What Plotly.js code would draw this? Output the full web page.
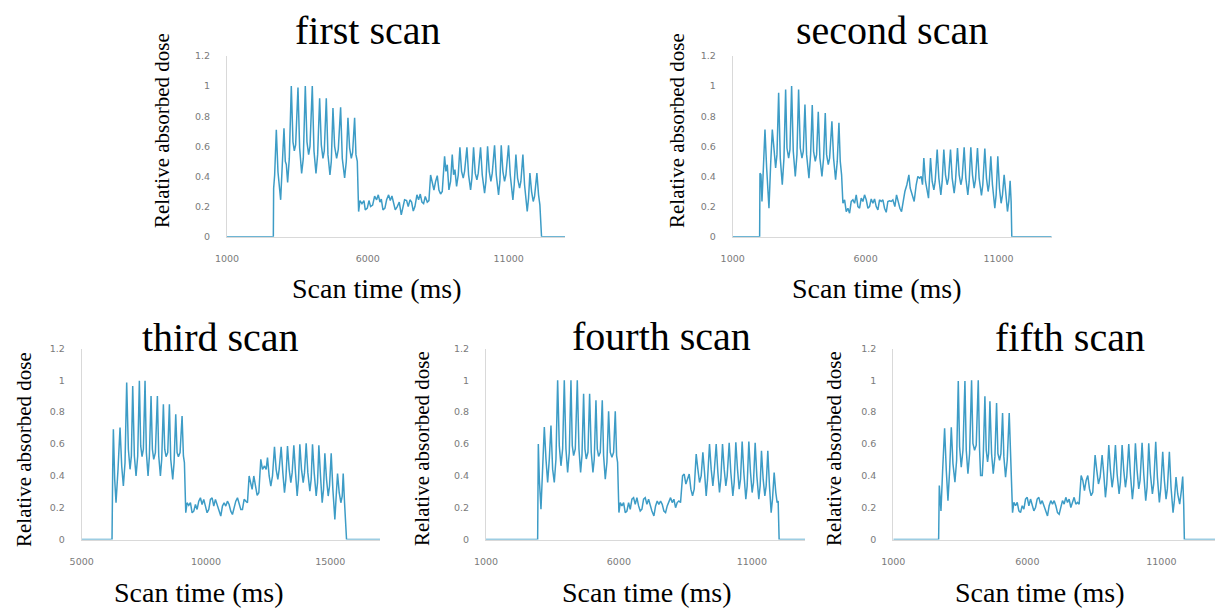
<!DOCTYPE html>
<html>
<head>
<meta charset="utf-8">
<script src="https://cdn.plot.ly/plotly-3.0.1.min.js"></script>
<style>html,body{margin:0;padding:0;background:#fff;}#chart{width:1219px;height:610px;}</style>
</head>
<body>
<div id="chart"></div>
<script>
// ---------------- DATA ----------------
const panelTitles = ["first scan", "second scan", "third scan", "fourth scan", "fifth scan"];
const xAxisTitle = "Scan time (ms)";
const yAxisTitle = "Relative absorbed dose";
const xRanges = [[1000, 13000], [1000, 13000], [5000, 17000], [1000, 13000], [1000, 13000]];
const xTickStarts = [1000, 1000, 5000, 1000, 1000];
const xTickStep = 5000;
const yRange = [0, 1.2];
const yTickStep = 0.2;

const p1Time = [1000, 2645, 2656, 2692, 2751, 2810, 2905, 2964, 3023, 3070, 3106, 3153, 3212, 3283, 3342, 3390, 3437, 3520, 3579, 3650, 3709, 3780, 3839, 3898, 3946, 4028, 4088, 4159, 4218, 4289, 4348, 4407, 4454, 4525, 4584, 4655, 4703, 4762, 4821, 4892, 4951, 5034, 5093, 5176, 5235, 5294, 5353, 5413, 5460, 5531, 5578, 5626, 5673,
  5720, 5791, 5862, 5909, 5981, 6040, 6099, 6170, 6241, 6312, 6371, 6430, 6478, 6537, 6607, 6667, 6738, 6797, 6856, 6915, 6974, 7045, 7116, 7187, 7246, 7305, 7376, 7435, 7495, 7554, 7613, 7672, 7743, 7802, 7862, 7921, 7980, 8039, 8110, 8169,
  8228, 8287, 8347, 8406, 8465, 8524, 8583, 8642,
  8725, 8772, 8820, 8879, 8938, 8997, 9044, 9092, 9151, 9210, 9269, 9328, 9387, 9435, 9518, 9577, 9648, 9695, 9754, 9813, 9872, 9920, 10002, 10062, 10145, 10192, 10251, 10310, 10369, 10417, 10499, 10559, 10641, 10689, 10736, 10795, 10854, 10902, 10996, 11056, 11150, 11197, 11257, 11316, 11387, 11434, 11505, 11564, 11659, 11706, 11754, 11813, 11872, 11919, 12002, 12061, 12108, 12167, 13000];
const p1Dose = [0, 0, 0.32, 0.41, 0.71, 0.43, 0.245, 0.46, 0.72, 0.50, 0.48, 0.36, 0.52, 1.0, 0.63, 0.57, 0.61, 0.99, 0.59, 0.42, 0.52, 1.0, 0.63, 0.545, 0.60, 1.0, 0.57, 0.42, 0.545, 0.92, 0.61, 0.52, 0.57, 0.92, 0.545, 0.41, 0.50, 0.855, 0.60, 0.52, 0.58, 0.86, 0.52, 0.39, 0.50, 0.79, 0.59, 0.52, 0.56, 0.79, 0.545, 0.50, 0.167,
  0.24, 0.22, 0.24, 0.178, 0.19, 0.24, 0.20, 0.21, 0.27, 0.245, 0.278, 0.23, 0.25, 0.178, 0.19, 0.245, 0.278, 0.24, 0.27, 0.23, 0.178, 0.20, 0.23, 0.145, 0.19, 0.245, 0.24, 0.20, 0.245, 0.23, 0.17, 0.20, 0.278, 0.245, 0.283, 0.23, 0.22, 0.267, 0.23, 0.24,
  0.41, 0.367, 0.31, 0.367, 0.405, 0.31, 0.283, 0.30,
  0.534, 0.434, 0.478, 0.311, 0.367, 0.545, 0.411, 0.445, 0.334, 0.411, 0.594, 0.434, 0.389, 0.434, 0.594, 0.411, 0.311, 0.389, 0.594, 0.422, 0.378, 0.422, 0.594, 0.411, 0.289, 0.367, 0.6, 0.434, 0.367, 0.422, 0.607, 0.411, 0.278, 0.367, 0.607, 0.434, 0.367, 0.411, 0.607, 0.411, 0.245, 0.345, 0.545, 0.389, 0.323, 0.367, 0.545, 0.345, 0.167, 0.256, 0.422, 0.3, 0.234, 0.267, 0.422, 0.278, 0.211, 0, 0];

const p2Time = [1000, 2013, 2026, 2064, 2101, 2151, 2214, 2277, 2364, 2427, 2490, 2540, 2615, 2665, 2728, 2790, 2865, 2928, 2991, 3041, 3104, 3154, 3216, 3279, 3354, 3417, 3479, 3542, 3605, 3655, 3718, 3780, 3868, 3930, 3993, 4043, 4106, 4156, 4219, 4281, 4357, 4419, 4482, 4532, 4595, 4645, 4732, 4795, 4870, 4933, 4996, 5046, 5096, 5146,
  5209, 5271, 5334, 5397, 5459, 5522, 5585, 5647, 5710, 5772, 5835, 5898, 5960, 6023, 6086, 6148, 6211, 6274, 6336, 6399, 6462, 6524, 6587, 6650, 6712, 6775, 6837, 6900, 6963, 7025, 7100, 7163, 7226, 7289, 7351, 7414,
  7477, 7552, 7627, 7677, 7752, 7827, 7903, 7965, 8028, 8090, 8140, 8190, 8253, 8316, 8366, 8441, 8504, 8567, 8617, 8692, 8755, 8830, 8880, 8942, 9005, 9068, 9118, 9193, 9256, 9331, 9381, 9456, 9519, 9582, 9632, 9707, 9770, 9845, 9895, 9957, 10020, 10083, 10133, 10208, 10270, 10358, 10408, 10484, 10546, 10609, 10647, 10709, 10772, 10860, 10910, 10972, 11035, 11098, 11148, 11211, 11273, 11336, 11386, 11436, 11474, 11499, 13000];
const p2Dose = [0, 0, 0.422, 0.411, 0.234, 0.434, 0.711, 0.456, 0.189, 0.478, 0.711, 0.611, 0.456, 0.545, 0.956, 0.52, 0.345, 0.52, 0.978, 0.589, 0.522, 0.578, 1.0, 0.567, 0.4, 0.545, 0.978, 0.589, 0.522, 0.567, 0.878, 0.545, 0.389, 0.545, 0.874, 0.567, 0.5, 0.545, 0.829, 0.522, 0.4, 0.522, 0.822, 0.545, 0.478, 0.522, 0.767, 0.522, 0.378, 0.5, 0.756, 0.5, 0.411, 0.222,
  0.245, 0.167, 0.189, 0.156, 0.234, 0.245, 0.222, 0.278, 0.2, 0.189, 0.256, 0.234, 0.278, 0.245, 0.189, 0.2, 0.251, 0.222, 0.251, 0.2, 0.178, 0.245, 0.234, 0.245, 0.189, 0.162, 0.234, 0.238, 0.234, 0.245, 0.2, 0.278, 0.234, 0.189, 0.167, 0.245,
  0.3, 0.345, 0.411, 0.323, 0.278, 0.234, 0.345, 0.4, 0.389, 0.4, 0.345, 0.522, 0.367, 0.311, 0.256, 0.522, 0.367, 0.311, 0.367, 0.578, 0.389, 0.278, 0.367, 0.578, 0.411, 0.345, 0.389, 0.578, 0.389, 0.289, 0.367, 0.589, 0.411, 0.345, 0.389, 0.594, 0.389, 0.278, 0.367, 0.594, 0.411, 0.323, 0.378, 0.589, 0.389, 0.274, 0.345, 0.585, 0.389, 0.3, 0.345, 0.534, 0.345, 0.189, 0.278, 0.534, 0.323, 0.222, 0.278, 0.411, 0.256, 0.167, 0.234, 0.371, 0.234, 0, 0];

const p3Time = [5000, 6220, 6247, 6274, 6327, 6381, 6461, 6542, 6609, 6676, 6743, 6810, 6877, 6945, 6998, 7052, 7119, 7186, 7253, 7320, 7374, 7428, 7481, 7548, 7602, 7669, 7723, 7790, 7844, 7897, 7964, 8045, 8099, 8166, 8219, 8286, 8340, 8394, 8461, 8528, 8582, 8662, 8716, 8783, 8837, 8890, 8957, 9038, 9092, 9132, 9186,
  9239, 9306, 9374, 9441, 9508, 9575, 9642, 9709, 9776, 9843, 9910, 9977, 10044, 10112, 10179, 10246, 10313, 10380, 10447, 10514, 10595, 10662, 10729, 10796, 10863, 10930, 10997, 11064, 11132, 11199, 11266, 11333, 11400, 11467, 11534, 11601, 11668,
  11735, 11802, 11856, 11923, 11977, 12058, 12125, 12205, 12272, 12353, 12420, 12474, 12541, 12608, 12675, 12755, 12822, 12890, 12943, 13024, 13091, 13158, 13212, 13279, 13346, 13413, 13467, 13534, 13601, 13668, 13722, 13775, 13842, 13910, 13963, 14030, 14097, 14178, 14231, 14285, 14352, 14433, 14487, 14540, 14607, 14674, 14728, 14782, 14849, 14916, 14970, 15037, 15104, 15184, 15238, 15292, 15359, 15426, 15480, 15520, 15574, 15654, 17000];
const p3Dose = [0, 0, 0.441, 0.692, 0.378, 0.231, 0.441, 0.703, 0.462, 0.336, 0.483, 0.986, 0.567, 0.441, 0.525, 0.965, 0.525, 0.399, 0.525, 0.997, 0.588, 0.52, 0.567, 0.997, 0.546, 0.399, 0.525, 0.902, 0.567, 0.504, 0.546, 0.902, 0.525, 0.399, 0.504, 0.85, 0.567, 0.52, 0.546, 0.85, 0.504, 0.378, 0.483, 0.787, 0.546, 0.52, 0.546, 0.776, 0.525, 0.483, 0.168,
  0.231, 0.214, 0.231, 0.168, 0.178, 0.22, 0.189, 0.241, 0.262, 0.22, 0.252, 0.21, 0.168, 0.189, 0.252, 0.262, 0.21, 0.252, 0.22, 0.189, 0.147, 0.21, 0.231, 0.21, 0.241, 0.22, 0.178, 0.157, 0.21, 0.241, 0.262, 0.231, 0.189, 0.189, 0.252, 0.241, 0.231,
  0.399, 0.357, 0.315, 0.399, 0.336, 0.277, 0.294, 0.504, 0.441, 0.462, 0.441, 0.514, 0.399, 0.336, 0.399, 0.583, 0.441, 0.378, 0.441, 0.583, 0.42, 0.294, 0.378, 0.587, 0.441, 0.357, 0.42, 0.592, 0.42, 0.273, 0.378, 0.598, 0.441, 0.357, 0.42, 0.604, 0.42, 0.304, 0.378, 0.598, 0.42, 0.273, 0.357, 0.592, 0.399, 0.231, 0.315, 0.541, 0.378, 0.273, 0.336, 0.541, 0.315, 0.126, 0.273, 0.415, 0.294, 0.231, 0.273, 0.415, 0.231, 0, 0];

const p4Time = [1000, 2943, 2968, 3006, 3068, 3131, 3194, 3256, 3319, 3382, 3444, 3507, 3569, 3632, 3695, 3757, 3820, 3883, 3945, 4008, 4071, 4133, 4196, 4246, 4296, 4359, 4434, 4497, 4559, 4610, 4672, 4722, 4772, 4835, 4898, 4960, 5023, 5073, 5136, 5186, 5236, 5299, 5374, 5424, 5487, 5549, 5612, 5675, 5737, 5800, 5863, 5913, 5950, 6000,
  6050, 6113, 6176, 6238, 6301, 6364, 6426, 6489, 6552, 6614, 6677, 6740, 6802, 6865, 6928, 6990, 7053, 7116, 7178, 7241, 7316, 7379, 7441, 7504, 7567, 7629, 7692, 7755, 7817, 7880, 7943, 8005, 8068, 8131, 8193, 8256, 8318,
  8394, 8456, 8519, 8582, 8644, 8707, 8770, 8832, 8907, 8970, 9033, 9095, 9158, 9221, 9283, 9334, 9408, 9471, 9534, 9584, 9659, 9722, 9784, 9834, 9897, 9960, 10022, 10073, 10148, 10210, 10286, 10336, 10398, 10461, 10524, 10574, 10636, 10699, 10774, 10824, 10887, 10950, 11012, 11062, 11125, 11188, 11263, 11313, 11363, 11426, 11489, 11539, 11601, 11664, 11727, 11777, 11840, 11902, 11952, 11990, 12027, 13000];
const p4Dose = [0, 0, 0.6, 0.379, 0.19, 0.442, 0.706, 0.506, 0.358, 0.506, 0.716, 0.442, 0.358, 0.506, 1.0, 0.59, 0.463, 0.569, 1.0, 0.569, 0.421, 0.548, 1.0, 0.59, 0.527, 0.569, 1.0, 0.569, 0.421, 0.527, 0.916, 0.569, 0.506, 0.548, 0.916, 0.548, 0.421, 0.506, 0.874, 0.569, 0.522, 0.548, 0.874, 0.527, 0.379, 0.485, 0.805, 0.548, 0.516, 0.548, 0.805, 0.527, 0.485, 0.169,
  0.232, 0.211, 0.232, 0.169, 0.179, 0.232, 0.19, 0.253, 0.263, 0.221, 0.263, 0.211, 0.179, 0.19, 0.253, 0.263, 0.221, 0.253, 0.211, 0.179, 0.148, 0.211, 0.242, 0.221, 0.242, 0.221, 0.179, 0.169, 0.211, 0.242, 0.263, 0.232, 0.253, 0.2, 0.232, 0.242, 0.232,
  0.4, 0.411, 0.348, 0.379, 0.411, 0.316, 0.274, 0.316, 0.537, 0.442, 0.358, 0.4, 0.548, 0.421, 0.274, 0.379, 0.6, 0.442, 0.337, 0.421, 0.6, 0.421, 0.295, 0.379, 0.6, 0.442, 0.337, 0.4, 0.607, 0.421, 0.274, 0.358, 0.611, 0.442, 0.316, 0.379, 0.615, 0.421, 0.253, 0.337, 0.615, 0.421, 0.295, 0.358, 0.607, 0.4, 0.253, 0.337, 0.558, 0.379, 0.274, 0.337, 0.558, 0.337, 0.169, 0.253, 0.421, 0.295, 0.232, 0.242, 0, 0];

const p5Time = [1000, 2691, 2716, 2741, 2778, 2840, 2914, 2977, 3039, 3101, 3163, 3225, 3299, 3362, 3424, 3473, 3535, 3598, 3672, 3722, 3784, 3846, 3920, 3970, 4032, 4094, 4169, 4219, 4256, 4318, 4355, 4417, 4467, 4517, 4554, 4604, 4666, 4728, 4790, 4852, 4902, 4964, 5014, 5076, 5125, 5187, 5250, 5324, 5361, 5398, 5448,
  5498, 5560, 5622, 5684, 5746, 5808, 5870, 5933, 5995, 6057, 6119, 6181, 6243, 6305, 6367, 6429, 6491, 6554, 6616, 6678, 6752, 6814, 6876, 6939, 7001, 7063, 7125, 7187, 7249, 7311, 7373, 7435, 7497, 7559, 7622, 7684, 7746, 7808, 7870, 7932,
  8007, 8069, 8131, 8193, 8255, 8317, 8379, 8441, 8528, 8590, 8653, 8715, 8789, 8851, 8913, 8963, 9038, 9100, 9162, 9212, 9286, 9348, 9423, 9472, 9535, 9597, 9659, 9708, 9783, 9845, 9919, 9969, 10031, 10093, 10155, 10205, 10280, 10342, 10416, 10466, 10528, 10590, 10665, 10714, 10789, 10851, 10925, 10975, 11050, 11112, 11174, 11223, 11298, 11360, 11435, 11484, 11546, 11609, 11683, 11745, 11795, 11832, 11857, 13000];
const p5Dose = [0, 0, 0.339, 0.286, 0.18, 0.434, 0.699, 0.434, 0.244, 0.434, 0.705, 0.477, 0.36, 0.498, 0.996, 0.583, 0.455, 0.561, 0.996, 0.561, 0.413, 0.54, 1.0, 0.604, 0.561, 0.593, 1.0, 0.561, 0.402, 0.402, 0.519, 0.9, 0.561, 0.487, 0.54, 0.869, 0.54, 0.413, 0.519, 0.858, 0.54, 0.498, 0.54, 0.794, 0.519, 0.392, 0.498, 0.794, 0.561, 0.477, 0.169,
  0.233, 0.212, 0.233, 0.18, 0.169, 0.212, 0.191, 0.254, 0.265, 0.212, 0.254, 0.212, 0.18, 0.201, 0.254, 0.265, 0.222, 0.244, 0.212, 0.18, 0.148, 0.212, 0.244, 0.222, 0.244, 0.212, 0.169, 0.159, 0.212, 0.244, 0.222, 0.265, 0.233, 0.254, 0.201, 0.233, 0.265, 0.222, 0.233, 0.222,
  0.402, 0.371, 0.307, 0.371, 0.402, 0.318, 0.275, 0.296, 0.53, 0.434, 0.349, 0.392, 0.53, 0.413, 0.265, 0.349, 0.593, 0.434, 0.328, 0.392, 0.593, 0.413, 0.286, 0.36, 0.593, 0.434, 0.328, 0.392, 0.6, 0.413, 0.254, 0.339, 0.604, 0.434, 0.318, 0.371, 0.608, 0.413, 0.244, 0.328, 0.604, 0.413, 0.286, 0.349, 0.614, 0.392, 0.233, 0.318, 0.551, 0.371, 0.254, 0.318, 0.551, 0.328, 0.169, 0.244, 0.392, 0.286, 0.222, 0.307, 0.396, 0.222, 0, 0];

// ---------------- LAYOUT ----------------
const W = 1219, H = 610;
const fx = p => p / W;
const fy = p => 1 - p / H;

// plot-area boxes in pixels: [left, right, top(1.2), bottom(0)]
const boxes = [
  [227, 565, 56, 236.7],
  [732.7, 1051.7, 56, 236.7],
  [81.7, 380, 348.5, 539.5],
  [486, 805, 348.5, 539.5],
  [893.3, 1215, 348.5, 539.5]
];
const titlePos = [[368, 30], [891.7, 30], [220, 337], [661.7, 336], [1070, 337]];
const xTitlePos = [[376.7, 288], [877, 288], [199, 592], [647, 592], [1040, 592]];
const yTitlePos = [[162, 131], [677, 131], [24, 450], [422, 449], [834, 449]];

const times = [p1Time, p2Time, p3Time, p4Time, p5Time];
const doses = [p1Dose, p2Dose, p3Dose, p4Dose, p5Dose];

const lineColor = '#3d9cc6';
const traces = [];
const layout = {
  width: W, height: H,
  margin: {l: 0, r: 0, t: 0, b: 0},
  paper_bgcolor: '#ffffff', plot_bgcolor: '#ffffff',
  showlegend: false,
  annotations: []
};

const serif = 'Liberation Serif';
const tickFont = {family: 'DejaVu Sans', size: 9.5, color: '#7a7a7a'};

for (let i = 0; i < 5; i++) {
  const sfx = i === 0 ? '' : String(i + 1);
  traces.push({
    type: 'scatter', mode: 'lines',
    x: times[i], y: doses[i],
    xaxis: 'x' + sfx, yaxis: 'y' + sfx,
    line: {color: lineColor, width: 1.5},
    hoverinfo: 'skip'
  });
  const b = boxes[i];
  layout['xaxis' + sfx] = {
    domain: [fx(b[0]), fx(b[1])],
    range: xRanges[i],
    anchor: 'y' + sfx,
    tick0: xTickStarts[i], dtick: xTickStep, tickmode: 'linear',
    tickformat: 'd',
    showgrid: false, zeroline: false,
    showline: true, linecolor: '#d9d9d9', linewidth: 1,
    ticks: '', ticklabelstandoff: 13,
    tickfont: tickFont
  };
  layout['yaxis' + sfx] = {
    domain: [fy(b[3]), fy(b[2])],
    range: yRange,
    anchor: 'x' + sfx,
    tick0: 0, dtick: yTickStep, tickmode: 'linear',
    showgrid: false, zeroline: false,
    showline: true, linecolor: '#d9d9d9', linewidth: 1,
    ticks: '', ticklabelstandoff: 14,
    tickfont: tickFont
  };
  layout.annotations.push({
    text: panelTitles[i], xref: 'paper', yref: 'paper',
    x: fx(titlePos[i][0]), y: fy(titlePos[i][1]),
    xanchor: 'center', yanchor: 'middle', showarrow: false,
    font: {family: serif, size: 40, color: '#000000'}
  });
  layout.annotations.push({
    text: xAxisTitle, xref: 'paper', yref: 'paper',
    x: fx(xTitlePos[i][0]), y: fy(xTitlePos[i][1]),
    xanchor: 'center', yanchor: 'middle', showarrow: false,
    font: {family: serif, size: 28, color: '#000000'}
  });
  layout.annotations.push({
    text: yAxisTitle, xref: 'paper', yref: 'paper',
    x: fx(yTitlePos[i][0]), y: fy(yTitlePos[i][1]),
    xanchor: 'center', yanchor: 'middle', showarrow: false, textangle: -90,
    font: {family: serif, size: 21, color: '#000000'}
  });
}

Plotly.newPlot('chart', traces, layout, {staticPlot: true, displayModeBar: false});
</script>
</body>
</html>
